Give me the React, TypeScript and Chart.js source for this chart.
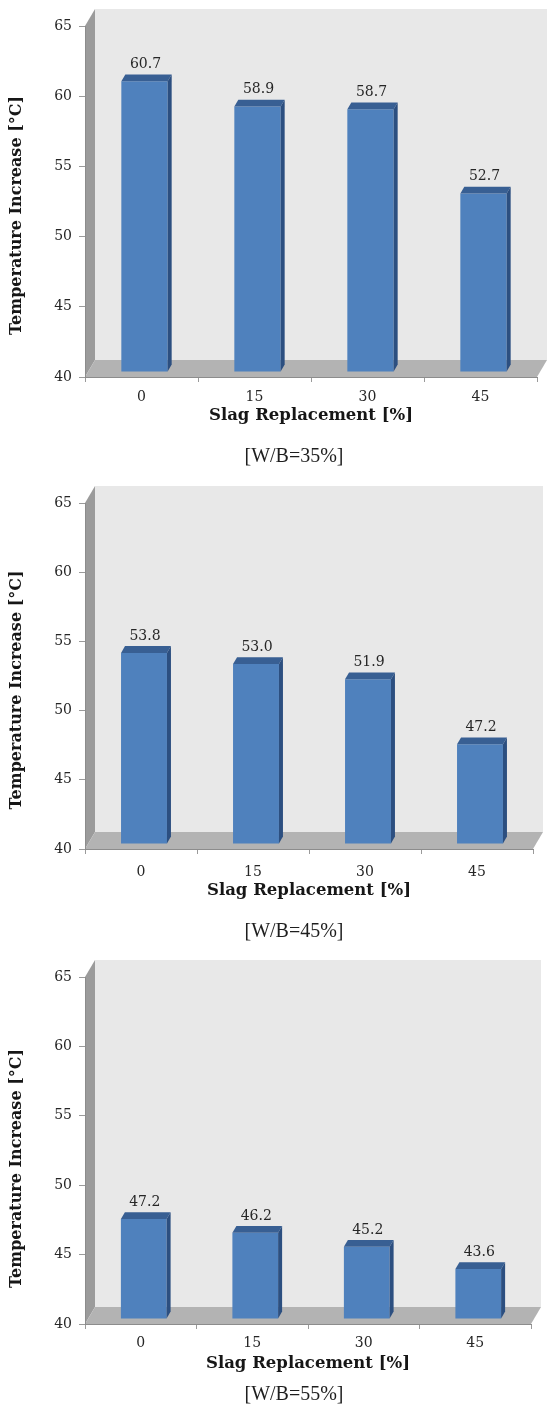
import React, { useEffect, useRef } from 'react';
import { Chart, registerables } from 'chart.js';

Chart.register(...registerables);

// ---- data ----
const categories = ['0', '15', '30', '45'];
const wb35Values = [60.7, 58.9, 58.7, 52.7];
const wb45Values = [53.8, 53.0, 51.9, 47.2];
const wb55Values = [47.2, 46.2, 45.2, 43.6];
const captions = ['[W/B=35%]', '[W/B=45%]', '[W/B=55%]'];
const yTickValues = [40, 45, 50, 55, 60, 65];
const xTitle = 'Slag Replacement [%]';
const yTitle = 'Temperature Increase [°C]';

// ---- 3D look ----
const DX = 10;
const DY = -17;
const BAR_FRONT = 0.3;
const BAR_BACK = 0.7;

function poly(ctx: CanvasRenderingContext2D, pts: number[][], fill: string) {
  ctx.beginPath();
  ctx.moveTo(pts[0][0], pts[0][1]);
  for (let i = 1; i < pts.length; i++) ctx.lineTo(pts[i][0], pts[i][1]);
  ctx.closePath();
  ctx.fillStyle = fill;
  ctx.fill();
}

const box3d = {
  id: 'box3d',
  beforeDraw(chart: any) {
    const { ctx, chartArea: a } = chart;
    ctx.save();
    ctx.fillStyle = '#E8E8E8';
    ctx.fillRect(a.left + DX, a.top + DY, a.right - a.left, a.bottom - a.top);
    poly(ctx, [[a.left, a.top], [a.left + DX, a.top + DY], [a.left + DX, a.bottom + DY], [a.left, a.bottom]], '#9B9B9B');
    poly(ctx, [[a.left, a.bottom], [a.left + DX, a.bottom + DY], [a.right + DX, a.bottom + DY], [a.right, a.bottom]], '#B3B3B3');
    ctx.restore();
  },
  beforeDatasetsDraw(chart: any) {
    chart.ctx.save();
    chart.ctx.translate(DX * BAR_FRONT, DY * BAR_FRONT);
  },
  afterDatasetsDraw(chart: any) {
    const ctx = chart.ctx as CanvasRenderingContext2D;
    ctx.restore();
    const meta = chart.getDatasetMeta(0);
    const vals = chart.data.datasets[0].data as number[];
    const ox = DX * BAR_FRONT, oy = DY * BAR_FRONT;
    const ddx = DX * (BAR_BACK - BAR_FRONT), ddy = DY * (BAR_BACK - BAR_FRONT);
    ctx.save();
    meta.data.forEach((bar: any, i: number) => {
      const { x, y, base, width } = bar.getProps(['x', 'y', 'base', 'width'], true);
      const l = x - width / 2 + ox, r = x + width / 2 + ox, t = y + oy, b = base + oy;
      poly(ctx, [[l, t], [l + ddx, t + ddy], [r + ddx, t + ddy], [r, t]], '#385F93');
      poly(ctx, [[r, t], [r + ddx, t + ddy], [r + ddx, b + ddy], [r, b]], '#2C4F80');
      ctx.fillStyle = '#262626';
      ctx.font = '14px "DejaVu Serif"';
      ctx.textAlign = 'center';
      ctx.textBaseline = 'bottom';
      ctx.fillText(vals[i].toFixed(1), x + ox + 1, t + ddy - 3);
    });
    ctx.restore();
  },
  afterDraw(chart: any, _args: any, opts: any) {
    const ctx = chart.ctx as CanvasRenderingContext2D;
    const a = chart.chartArea;
    ctx.save();
    ctx.fillStyle = '#1e1e1e';
    ctx.font = '20px "Liberation Serif"';
    ctx.textAlign = 'center';
    ctx.textBaseline = 'middle';
    ctx.fillText(opts.caption, 294, a.bottom + opts.captionOffset);
    // y-axis title
    ctx.translate(17, (a.top + a.bottom) / 2 + opts.yTitleShift);
    ctx.rotate(-Math.PI / 2);
    ctx.fillStyle = '#161616';
    ctx.font = 'bold 16px "DejaVu Serif"';
    ctx.fillText(yTitle, 0, 0);
    ctx.restore();
  },
};

interface Props {
  values: number[];
  caption: string;
  height: number;
  padRight: number;
  padBottom: number;
  xHeight: number;
  xLabelPad: number;
  captionOffset: number;
  yTitleShift: number;
}

function Bar3DChart(p: Props) {
  const ref = useRef<HTMLCanvasElement | null>(null);
  useEffect(() => {
    if (!ref.current) return;
    const chart = new Chart(ref.current, {
      type: 'bar',
      data: {
        labels: categories,
        datasets: [
          {
            data: p.values,
            base: 40,
            backgroundColor: '#4F81BD',
            borderWidth: 0,
            barPercentage: 0.41,
            categoryPercentage: 1,
            clip: false as any,
          } as any,
        ],
      },
      plugins: [box3d as any],
      options: {
        animation: false,
        responsive: false,
        maintainAspectRatio: false,
        devicePixelRatio: 1,
        layout: { padding: { top: 26, left: 0, right: p.padRight, bottom: p.padBottom } },
        plugins: {
          legend: { display: false },
          tooltip: { enabled: false },
          box3d: { caption: p.caption, captionOffset: p.captionOffset, yTitleShift: p.yTitleShift },
        } as any,
        scales: {
          x: {
            type: 'category',
            afterFit: (s: any) => { s.height = p.xHeight; },
            grid: { offset: true, drawOnChartArea: false, drawTicks: true, tickLength: 5, color: '#9A9A9A' },
            border: { display: true, color: '#8C8C8C' },
            ticks: { font: { family: 'DejaVu Serif', size: 14 }, color: '#262626', padding: p.xLabelPad },
            title: {
              display: true,
              text: xTitle,
              font: { family: 'DejaVu Serif', size: 16.5, weight: 'bold' },
              color: '#161616',
              padding: { top: 0, bottom: 0 },
            },
          },
          y: {
            type: 'linear',
            min: 40,
            max: 65,
            afterFit: (s: any) => { s.width = 85; },
            afterBuildTicks: (s: any) => { s.ticks = yTickValues.map((v) => ({ value: v })); },
            grid: { drawOnChartArea: false, drawTicks: true, tickLength: 6, color: '#9A9A9A' },
            border: { display: true, color: '#8C8C8C' },
            ticks: { font: { family: 'DejaVu Serif', size: 14 }, color: '#262626', padding: 7 },
            title: { display: false, text: yTitle },
          },
        },
      },
    });
    return () => chart.destroy();
  }, []);
  return <canvas ref={ref} width={547} height={p.height} style={{ display: 'block', width: 547, height: p.height }} />;
}

export default function App() {
  return (
    <div style={{ position: 'absolute', left: 0, top: 0, width: 547, background: '#fff' }}>
      <Bar3DChart values={wb35Values} caption={captions[0]} height={477} padRight={10} padBottom={51} xHeight={49} xLabelPad={7} captionOffset={80} yTitleShift={14} />
      <Bar3DChart values={wb45Values} caption={captions[1]} height={474} padRight={14} padBottom={50} xHeight={52} xLabelPad={10} captionOffset={83} yTitleShift={14} />
      <Bar3DChart values={wb55Values} caption={captions[2]} height={454} padRight={16} padBottom={31} xHeight={50} xLabelPad={6} captionOffset={71} yTitleShift={18} />
    </div>
  );
}
